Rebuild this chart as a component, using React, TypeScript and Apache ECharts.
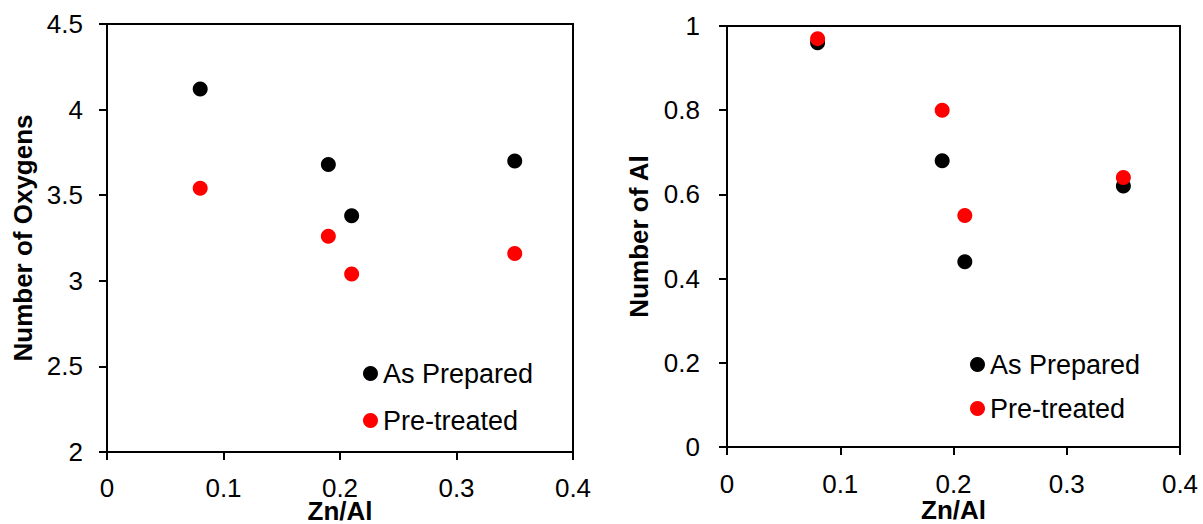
import React, { useEffect, useRef } from "react";
import * as echarts from "echarts";

const znAl = [0.08, 0.19, 0.21, 0.35];
const oxyAsPrepared = [4.12, 3.68, 3.38, 3.7];
const oxyPretreated = [3.54, 3.26, 3.04, 3.16];
const alAsPrepared = [0.96, 0.68, 0.44, 0.62];
const alPretreated = [0.97, 0.8, 0.55, 0.64];
const seriesNames = ["As Prepared", "Pre-treated"];
const seriesColors = ["#000000", "#ff0000"];

const FONT = '"Liberation Sans", Arial, sans-serif';

const pairs = (xs: number[], ys: number[]) => xs.map((x, i) => [x, ys[i]]);

export default function App() {
  const ref = useRef<HTMLDivElement>(null);
  useEffect(() => {
    document.body.style.margin = "0";
    document.body.style.overflow = "hidden";
    const chart = echarts.init(ref.current!, null, { renderer: "svg" });
    const axisLine = { show: true, lineStyle: { color: "#000", width: 2 } };
    const axisTick = { show: true, inside: false, length: 8, lineStyle: { color: "#000", width: 2 } };
    const label = { color: "#000", fontSize: 26, fontFamily: FONT };
    const nameStyle = { color: "#000", fontSize: 26, fontWeight: "bold" as const, fontFamily: FONT };
    const xAxisBase = (gridIndex: number, nameGap: number, labelMargin: number) => ({
      type: "value" as const,
      gridIndex,
      min: 0,
      max: 0.4,
      interval: 0.1,
      name: "Zn/Al",
      nameLocation: "middle" as const,
      nameGap,
      nameMoveOverlap: false,
      nameTextStyle: { ...nameStyle, lineHeight: 20 },
      axisLine,
      axisTick,
      axisLabel: { ...label, lineHeight: 20, margin: labelMargin },
      splitLine: { show: false },
    });
    const legendBase = (left: number, top: number, gap: number) => ({
      orient: "vertical" as const,
      left,
      top,
      icon: "circle",
      itemWidth: 15,
      itemHeight: 15,
      itemGap: gap,
      selectedMode: false,
      textStyle: { color: "#000", fontSize: 27, fontFamily: FONT },
      data: seriesNames,
    });
    const scatter = (k: number, xi: number, ys: number[]) => ({
      name: seriesNames[k],
      type: "scatter",
      xAxisIndex: xi,
      yAxisIndex: xi,
      symbolSize: 15,
      itemStyle: { color: seriesColors[k], opacity: 1 },
      data: pairs(znAl, ys),
    });
    chart.setOption({
      animation: false,
      backgroundColor: "#fff",
      grid: [
        { left: 107, top: 24, width: 466, height: 428, show: true, borderColor: "#000", borderWidth: 2, outerBoundsMode: "none", containLabel: false },
        { left: 727, top: 26, width: 453, height: 421, show: true, borderColor: "#000", borderWidth: 2, outerBoundsMode: "none", containLabel: false },
      ],
      xAxis: [xAxisBase(0, 49, 26), xAxisBase(1, 53, 27)],
      yAxis: [
        {
          type: "value",
          gridIndex: 0,
          min: 2,
          max: 4.5,
          interval: 0.5,
          name: "Number of Oxygens",
          nameLocation: "middle",
          nameGap: 71,
          nameMoveOverlap: false,
          nameTextStyle: nameStyle,
          axisLine,
          axisTick,
          axisLabel: { ...label, margin: 24 },
          splitLine: { show: false },
        },
        {
          type: "value",
          gridIndex: 1,
          min: 0,
          max: 1,
          interval: 0.2,
          name: "Number of Al",
          nameLocation: "middle",
          nameGap: 75,
          nameMoveOverlap: false,
          nameTextStyle: nameStyle,
          axisLine,
          axisTick,
          axisLabel: { ...label, margin: 27 },
          splitLine: { show: false },
        },
      ],
      legend: [legendBase(358, 355, 20), legendBase(965, 346, 17)],
      series: [
        scatter(0, 0, oxyAsPrepared),
        scatter(1, 0, oxyPretreated),
        scatter(0, 1, alAsPrepared),
        scatter(1, 1, alPretreated),
      ],
    });
    return () => chart.dispose();
  }, []);
  return (
    <div
      ref={ref}
      style={{ position: "fixed", left: 0, top: 0, width: 1203, height: 524 }}
    />
  );
}
